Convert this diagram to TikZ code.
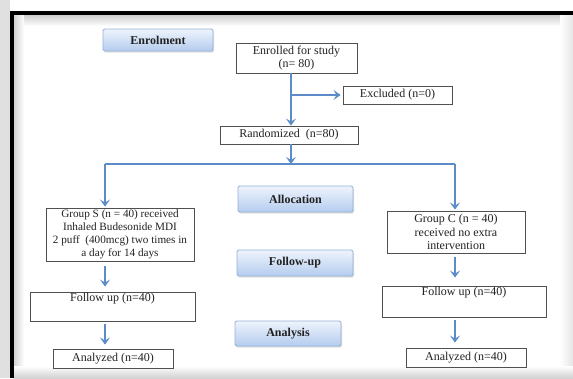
\documentclass[tikz,border=0pt]{standalone}
\usepackage{fontspec}
\setmainfont{Liberation Serif}
\usetikzlibrary{arrows.meta,shadows}
\definecolor{arrowblue}{HTML}{5B8BC8}
\definecolor{boxgray}{HTML}{505050}
\definecolor{textgray}{HTML}{222222}
\definecolor{tagborder}{HTML}{95B1DA}
\definecolor{tagtop}{HTML}{EEF4FC}
\definecolor{tagbottom}{HTML}{B4CCEE}
\begin{document}
\begin{tikzpicture}[x=1pt,y=-1pt,
  box/.style={draw=boxgray, line width=0.9pt, fill=white, inner sep=0pt, align=center,
    font=\fontsize{12}{13.2}\selectfont, text=textgray},
  tag/.style={draw=tagborder, line width=0.8pt, rounded corners=1.5pt, top color=tagtop,
    bottom color=tagbottom, inner sep=0pt, font=\bfseries\fontsize{12}{13}\selectfont,
    text=textgray, drop shadow={opacity=0.25, shadow xshift=1pt, shadow yshift=-1.5pt}},
  arr/.style={draw=arrowblue, line width=2pt, -{Stealth[length=7pt,width=10pt,inset=3pt]}},
  flow/.style={draw=arrowblue, line width=2pt}]
\useasboundingbox (0,0) rectangle (573,378);
% frame
\fill[white] (0,0) rectangle (573,378);
\shade[top color=black!20, bottom color=white] (14,14.5) rectangle (573,26);
\shade[left color=black!18, right color=white] (13.5,14.5) rectangle (24,378);
\shade[left color=white, right color=black!10] (560,14.5) rectangle (573,378);
\shade[top color=white, bottom color=black!18] (13.5,366) rectangle (573,378);
\fill[black!12] (0,0) rectangle (9.5,378);
\draw[black, line width=4pt] (11.5,378) -- (11.5,12.5) -- (573,12.5);
% helper columns
\coordinate (trunk) at (291,0);
\coordinate (colL) at (105,0);
\coordinate (colR) at (455,0);
\coordinate (splitL) at (105,164);
\coordinate (splitR) at (455,164);
% phase tags
\node[tag, minimum width=110, minimum height=22] (tenrol) at (158,40) {Enrolment};
\node[tag, minimum width=115, minimum height=26] (talloc) at (295.5,199) {Allocation};
\node[tag, minimum width=116, minimum height=26] (tfollow) at (295,263) {Follow-up};
\node[tag, minimum width=106, minimum height=25] (tanal) at (288,333.5) {Analysis};
% boxes
\node[box, minimum width=121, minimum height=30] (enrolled) at (296.5,58) {Enrolled for study\\(n= 80)};
\node[box, minimum width=109, minimum height=18] (excluded) at (397.5,95) {Excluded (n=0)};
\node[box, minimum width=138, minimum height=18] (random) at (289,135) {Randomized\ \ (n=80)};
\node[box, minimum width=148, minimum height=53, font=\fontsize{11.2}{13}\selectfont] (groupS) at (120,234.5)
  {Group S (n = 40) received\\Inhaled Budesonide MDI\\2 puff\ \ (400mcg) two times in\\a day for 14 days};
\node[box, minimum width=138, minimum height=42] (groupC) at (456,232)
  {Group C (n = 40)\\received no extra\\intervention};
\node[box, minimum width=165, minimum height=29, text height=9pt, text depth=20pt] (followL) at (112.5,306.5) {Follow up (n=40)};
\node[box, minimum width=164, minimum height=31, text height=9pt, text depth=22pt] (followR) at (464,301.5) {Follow up (n=40)};
\node[box, minimum width=120, minimum height=19] (analL) at (113,358.5) {Analyzed (n=40)};
\node[box, minimum width=120, minimum height=19] (analR) at (466,357.5) {Analyzed (n=40)};
% connectors
\draw[arr] (enrolled.south -| trunk) -- (random.north -| trunk);
\draw[arr, shorten >=2pt] (trunk |- excluded.west) -- (excluded.west);
\draw[flow] (splitL) -- (splitR);
\draw[arr] (random.south -| trunk) -- (trunk |- splitL);
\draw[arr, shorten >=1pt] (splitL) -- (colL |- groupS.north);
\draw[arr, shorten >=1pt] (splitR) -- (colR |- groupC.north);
\draw[arr, shorten <=5pt, shorten >=5pt] (colL |- groupS.south) -- (colL |- followL.north);
\draw[arr, shorten <=3pt, shorten >=4pt] (colL |- followL.south) -- (colL |- analL.north);
\draw[arr, shorten <=4pt, shorten >=8pt] (colR |- groupC.south) -- (colR |- followR.north);
\draw[arr, shorten <=3pt, shorten >=5pt] (colR |- followR.south) -- (colR |- analR.north);
\end{tikzpicture}
\end{document}
